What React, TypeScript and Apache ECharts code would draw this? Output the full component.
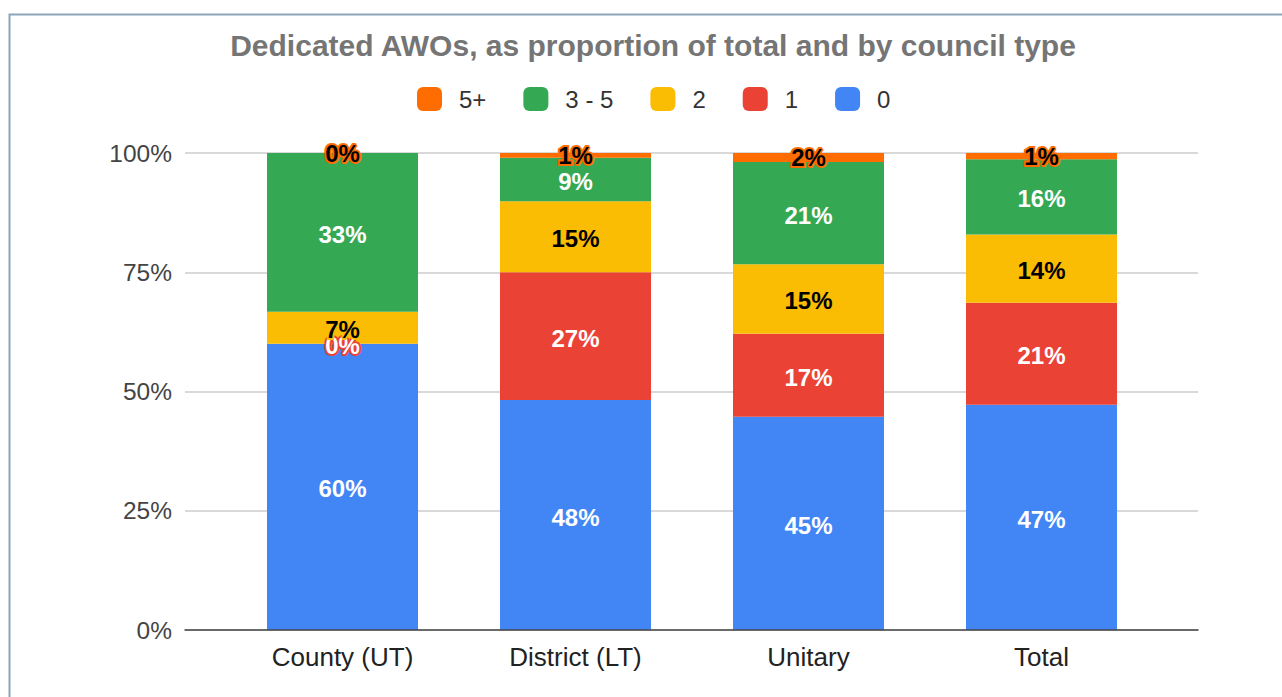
import React, { useEffect, useRef } from "react";
import * as echarts from "echarts";

const categories = ["County (UT)", "District (LT)", "Unitary", "Total"];
const seriesNames = ["0", "1", "2", "3 - 5", "5+"];
const legendOrder = ["5+", "3 - 5", "2", "1", "0"];
const colors = ["#4285F4", "#EA4335", "#FBBC04", "#34A853", "#FF6D01"];
const labelColors = ["#ffffff", "#ffffff", "#000000", "#ffffff", "#000000"];
const zeroValues = [60, 48.2, 44.7, 47.2];
const oneValues = [0, 26.8, 17.4, 21.4];
const twoValues = [6.7, 14.9, 14.6, 14.3];
const threeToFiveValues = [33.3, 9.1, 21.4, 15.8];
const fivePlusValues = [0, 1.0, 1.9, 1.3];
const seriesValues = [zeroValues, oneValues, twoValues, threeToFiveValues, fivePlusValues];
const yTicks = [0, 25, 50, 75, 100];

export default function App() {
  const ref = useRef<HTMLDivElement>(null);
  useEffect(() => {
    if (!ref.current) return;
    const chart = echarts.init(ref.current, undefined, { renderer: "svg" });
    const font = "Liberation Sans, Arial, sans-serif";
    chart.setOption({
      animation: false,
      backgroundColor: "#ffffff",
      textStyle: { fontFamily: font },
      title: {
        text: "Dedicated AWOs, as proportion of total and by council type",
        left: 653,
        top: 30,
        padding: 0,
        textAlign: "center",
        textStyle: { fontSize: 30, fontWeight: "bold", color: "#757575", fontFamily: font },
      },
      legend: {
        data: legendOrder,
        left: 417,
        top: 87,
        padding: 0,
        itemWidth: 25,
        itemHeight: 24,
        itemGap: 37,
        icon: "roundRect",
        textStyle: { fontSize: 24, color: "#333333", padding: [0, 0, 0, 12], fontFamily: font },
      },
      graphic: [
        {
          type: "rect",
          shape: { x: 9.5, y: 14.5, width: 1320, height: 720 },
          style: { fill: "none", stroke: "#8aa5b8", lineWidth: 2 },
          silent: true,
          z: 100,
        },
      ],
      grid: [
        { left: 185, right: 84, top: 153, bottom: 67 },
        { left: 226, right: 124, top: 153, bottom: 67 },
      ],
      xAxis: [
        {
          type: "category",
          gridIndex: 0,
          data: [""],
          axisLine: { show: true, lineStyle: { color: "#444444", width: 1.5 } },
          axisTick: { show: false },
          axisLabel: { show: false },
          z: 5,
        },
        {
          type: "category",
          gridIndex: 1,
          data: categories,
          axisLine: { show: false },
          axisTick: { show: false },
          axisLabel: { fontSize: 26, color: "#222222", margin: 14, fontFamily: font },
        },
      ],
      yAxis: [
        {
          type: "value",
          gridIndex: 0,
          min: 0,
          max: 100,
          interval: 25,
          axisLabel: {
            fontSize: 24.5,
            color: "#444444",
            margin: 13,
            fontFamily: font,
            formatter: (v: number) => (yTicks.includes(v) ? v + "%" : ""),
          },
          axisLine: { show: false },
          axisTick: { show: false },
          splitLine: { lineStyle: { color: "#cccccc", width: 1.5 } },
        },
        {
          type: "value",
          gridIndex: 1,
          min: 0,
          max: 100,
          show: false,
          splitLine: { show: false },
        },
      ],
      series: seriesNames.map((name, i) => ({
        name,
        type: "bar",
        stack: "total",
        xAxisIndex: 1,
        yAxisIndex: 1,
        barWidth: 151,
        data: seriesValues[i],
        itemStyle: { color: colors[i] },
        label: {
          show: true,
          position: "inside",
          offset: [0, i === 4 ? 0 : 2],
          formatter: (p: any) => Math.round(p.value) + "%",
          fontSize: 24,
          fontWeight: "bold",
          color: labelColors[i],
          textBorderColor: colors[i],
          textBorderWidth: 4,
          fontFamily: font,
        },
        z: 3,
      })),
    });
    return () => chart.dispose();
  }, []);
  return (
    <div
      ref={ref}
      style={{ position: "absolute", left: 0, top: 0, width: 1282, height: 697 }}
    />
  );
}
